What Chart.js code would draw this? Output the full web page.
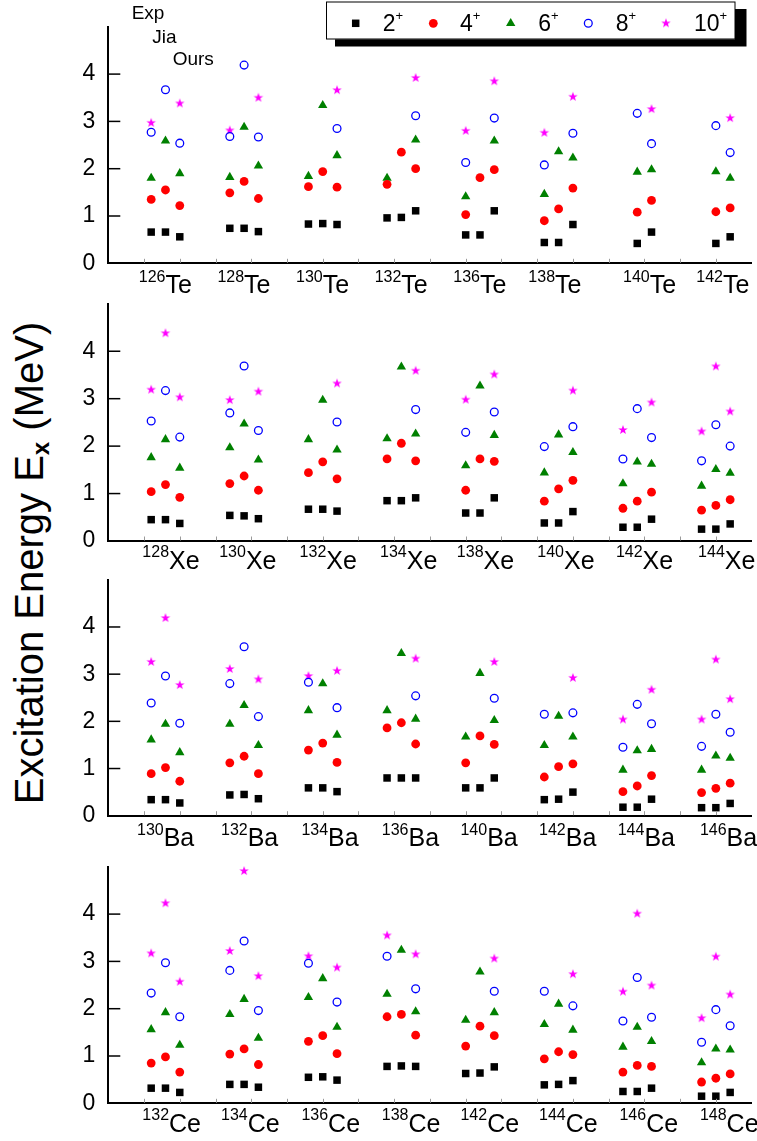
<!DOCTYPE html>
<html>
<head>
<meta charset="utf-8">
<title>Excitation energies of Te, Xe, Ba and Ce isotopes</title>
<script src="https://cdn.jsdelivr.net/npm/chart.js@4.4.0/dist/chart.umd.min.js"></script>
<style>
  html, body { margin: 0; padding: 0; background: #fff; }
  body { width: 757px; height: 1141px; position: relative; overflow: hidden;
         font-family: "Liberation Sans", Arial, sans-serif; }
  canvas { position: absolute; left: 0; }
  #ytitle { position: absolute; left: 31px; top: 563px; color: #000;
            transform: translate(-50%, -50%) rotate(-90deg);
            font-size: 40px; white-space: nowrap; line-height: 1; }
  #ytitle sub { font-size: 24px; font-weight: bold; vertical-align: -6px; }
</style>
</head>
<body>
<div id="ytitle">Excitation Energy E<sub>x</sub> (MeV)</div>
<script>
/**
 * Excitation energies of the 2+ ... 10+ yrast states.
 * Every list runs nucleus by nucleus, three values each: Exp, Jia, Ours.
 * null = no value for that column.
 */
var teMass = ['126', '128', '130', '132', '136', '138', '140', '142'];
var te2  = [0.66,0.66,0.56, 0.74,0.74,0.67, 0.83,0.84,0.82, 0.96,0.97,1.11, 0.60,0.60,1.11, 0.44,0.44,0.82, null,0.42,0.66, null,0.42,0.56];
var te4  = [1.35,1.55,1.22, 1.49,1.73,1.37, 1.62,1.94,1.61, 1.67,2.35,2.00, 1.03,1.81,1.98, 0.90,1.15,1.59, null,1.08,1.33, null,1.09,1.17];
var te6  = [1.80,2.59,1.90, 1.82,2.88,2.06, 1.84,3.34,2.28, 1.80,null,2.61, 1.41,null,2.59, 1.46,2.36,2.23, null,1.93,1.98, null,1.94,1.80];
var te8  = [2.77,3.67,2.54, 2.68,4.19,2.67, null,null,2.85, null,null,3.12, 2.13,null,3.07, 2.08,null,2.75, null,3.17,2.53, null,2.91,2.34];
var te10 = [2.97,null,3.38, 2.81,null,3.50, null,null,3.66, null,null,3.92, 2.80,null,3.85, 2.76,null,3.52, null,null,3.26, null,null,3.07];

var xeMass = ['128', '130', '132', '134', '138', '140', '142', '144'];
var xe2  = [0.45,0.45,0.37, 0.54,0.53,0.47, 0.67,0.67,0.63, 0.85,0.85,0.91, 0.59,0.59,0.91, 0.38,0.38,0.62, 0.29,0.29,0.46, 0.25,0.25,0.36];
var xe4  = [1.04,1.19,0.92, 1.21,1.37,1.07, 1.44,1.67,1.31, 1.73,2.06,1.69, 1.07,1.73,1.68, 0.84,1.10,1.28, 0.69,0.84,1.03, 0.65,0.75,0.87];
var xe6  = [1.76,2.14,1.54, 1.97,2.47,1.71, 2.14,2.97,1.92, 2.16,3.67,2.26, 1.59,3.27,2.23, 1.44,2.24,1.87, 1.21,1.67,1.62, 1.16,1.51,1.43];
var xe8  = [2.53,3.17,2.19, 2.70,3.69,2.33, null,null,2.51, null,null,2.77, 2.29,null,2.72, 1.99,null,2.41, 1.73,2.79,2.18, 1.69,2.45,2.00];
var xe10 = [3.19,4.38,3.03, 2.97,null,3.15, null,null,3.32, null,null,3.59, 2.98,null,3.51, null,null,3.17, 2.34,null,2.92, 2.31,3.68,2.73];

var baMass = ['130', '132', '134', '136', '140', '142', '144', '146'];
var ba2  = [0.34,0.34,0.27, 0.44,0.45,0.36, 0.59,0.59,0.51, 0.80,0.80,0.80, 0.59,0.59,0.80, 0.34,0.35,0.50, 0.18,0.18,0.35, 0.17,0.17,0.26];
var ba4  = [0.89,1.02,0.73, 1.12,1.26,0.89, 1.39,1.54,1.13, 1.86,1.97,1.52, 1.12,1.69,1.51, 0.82,1.04,1.10, 0.51,0.63,0.85, 0.49,0.58,0.69];
var ba6  = [1.61,1.94,1.34, 1.94,2.34,1.49, 2.23,2.80,1.71, 2.23,3.44,2.05, 1.67,3.02,2.02, 1.49,2.11,1.67, 0.97,1.38,1.41, 0.97,1.27,1.22];
var ba8  = [2.39,2.96,1.96, 2.80,3.58,2.10, 2.83,null,2.29, null,null,2.54, null,null,2.49, 2.15,null,2.18, 1.45,2.36,1.95, 1.47,2.15,1.77];
var ba10 = [3.26,4.19,2.77, 3.11,null,2.89, 2.96,null,3.07, null,null,3.33, null,null,3.26, null,null,2.92, 2.04,null,2.67, 2.04,3.31,2.47];

var ceMass = ['132', '134', '136', '138', '142', '144', '146', '148'];
var ce2  = [0.32,0.32,0.23, 0.40,0.40,0.34, 0.55,0.56,0.49, 0.78,0.79,0.78, 0.63,0.64,0.77, 0.39,0.40,0.48, 0.25,0.25,0.32, 0.15,0.15,0.23];
var ce4  = [0.85,0.98,0.66, 1.04,1.15,0.82, 1.31,1.43,1.05, 1.83,1.88,1.44, 1.21,1.63,1.43, 0.94,1.09,1.03, 0.66,0.80,0.78, 0.45,0.53,0.62];
var ce6  = [1.56,1.92,1.23, 1.88,2.20,1.38, 2.24,2.64,1.61, 2.31,3.24,1.94, 1.76,2.78,1.92, 1.67,2.10,1.55, 1.19,1.61,1.31, 0.86,1.15,1.13];
var ce8  = [2.33,2.97,1.83, 2.81,3.43,1.96, 2.96,null,2.14, 3.11,null,2.42, null,null,2.37, 2.37,null,2.06, 1.74,2.66,1.82, 1.29,1.98,1.64];
var ce10 = [3.17,4.23,2.57, 3.22,4.91,2.69, 3.11,null,2.87, 3.55,null,3.15, null,null,3.06, null,null,2.73, 2.36,4.01,2.49, 1.80,3.10,2.30];

// where each isotope name starts on the x axis
var teLabelX = [0.6, 2.8, 5.0, 7.2, 9.4, 11.5, 14.15, 16.2];
var xeLabelX = [0.7, 2.85, 5.1, 7.35, 9.5, 11.75, 13.95, 16.25];
var baLabelX = [0.55, 2.9, 5.15, 7.4, 9.6, 11.8, 14.0, 16.3];
var ceLabelX = [0.7, 2.9, 5.15, 7.4, 9.6, 11.8, 14.05, 16.3];

var stateNames = ['2', '4', '6', '8', '10'];
var columnNames = ['Exp', 'Jia', 'Ours'];

// x position of a column: nuclei every 2.2 units, columns 0.4 apart
var GROUP_START = 0.2, GROUP_STEP = 2.2, COL_STEP = 0.4;

var FONT = '"Liberation Sans", Arial, sans-serif';
var AXIS_LEFT = 108.3, AXIS_RIGHT_PAD = 3.3;

var panels = [
  { sym: 'Te', mass: teMass, series: [te2, te4, te6, te8, te10], labelX: teLabelX, top: 14.6,  bottom: 263.3,  labelDy: 30 },
  { sym: 'Xe', mass: xeMass, series: [xe2, xe4, xe6, xe8, xe10], labelX: xeLabelX, top: 291,   bottom: 541,    labelDy: 28 },
  { sym: 'Ba', mass: baMass, series: [ba2, ba4, ba6, ba8, ba10], labelX: baLabelX, top: 567.6, bottom: 815.7,  labelDy: 30.5 },
  { sym: 'Ce', mass: ceMass, series: [ce2, ce4, ce6, ce8, ce10], labelX: ceLabelX, top: 854.2, bottom: 1103.3, labelDy: 28.5 }
];

/**
 * Filled five pointed star used as point style for the 10+ states
 */
function makeStar(outer, inner, color)
{
  var c = document.createElement('canvas');
  var s = Math.ceil(outer * 2 + 2);
  c.width = s;
  c.height = s;
  var g = c.getContext('2d');
  g.fillStyle = color;
  g.beginPath();
  for (var k = 0; k < 10; k++) {
    var r = (k % 2) ? inner : outer;
    var a = -Math.PI / 2 + k * Math.PI / 5;
    g.lineTo(s / 2 + r * Math.cos(a), s / 2 + r * Math.sin(a));
  }
  g.closePath();
  g.fill();
  return c;
}

var star = makeStar(5.0, 2.0, '#ff00ff');

// marker style of each state, 2+ to 10+
var markers = [
  { pointStyle: 'rect',     radius: 5.3, backgroundColor: '#000000', borderColor: '#000000', borderWidth: 0 },
  { pointStyle: 'circle',   radius: 4.4, backgroundColor: '#ff0000', borderColor: '#ff0000', borderWidth: 0 },
  { pointStyle: 'triangle', radius: 5.4, backgroundColor: '#008000', borderColor: '#008000', borderWidth: 0 },
  { pointStyle: 'circle',   radius: 3.9, backgroundColor: 'rgba(0,0,0,0)', borderColor: '#0000ff', borderWidth: 1.3 },
  { pointStyle: star,       radius: 5.0, backgroundColor: '#ff00ff', borderColor: '#ff00ff', borderWidth: 0 }
];

function toPoints(values)
{
  var pts = [];
  for (var i = 0; i < values.length; i++) {
    if (values[i] === null) continue;
    var g = Math.floor(i / 3), m = i % 3;
    pts.push({ x: GROUP_START + GROUP_STEP * g + COL_STEP * m, y: values[i] });
  }
  return pts;
}

/**
 * Inward ticks on both axes and the isotope names under each panel
 */
var panelDecor = {
  id: 'panelDecor',
  afterDraw: function (chart, args, opts)
  {
    var ctx = chart.ctx;
    var area = chart.chartArea;
    var xs = chart.scales.x, ys = chart.scales.y;
    var p = opts.panel;

    ctx.save();
    ctx.strokeStyle = '#000';
    ctx.lineWidth = 1.5;
    for (var v = 1; v <= 4; v++) {
      var py = ys.getPixelForValue(v);
      ctx.beginPath();
      ctx.moveTo(area.left, py);
      ctx.lineTo(area.left + 12, py);
      ctx.stroke();
    }

    ctx.strokeStyle = '#9a9a9a';
    ctx.lineWidth = 1;
    for (var t = 0; t <= 16; t++) {
      var px = Math.round(xs.getPixelForValue(t)) + 0.5;
      ctx.beginPath();
      ctx.moveTo(px, area.bottom - 0.5);
      ctx.lineTo(px, area.bottom - 4.5);
      ctx.stroke();
    }

    ctx.fillStyle = '#000';
    ctx.textBaseline = 'alphabetic';
    for (var i = 0; i < p.mass.length; i++) {
      var lx = xs.getPixelForValue(p.labelX[i]);
      var base = area.bottom + p.labelDy;
      ctx.font = '16px ' + FONT;
      ctx.textAlign = 'right';
      ctx.fillText(p.mass[i], lx, base - 11.6);
      ctx.font = '25px ' + FONT;
      ctx.textAlign = 'left';
      ctx.fillText(p.sym, lx, base);
    }
    ctx.restore();
  }
};

/**
 * Column captions and the boxed legend on the top panel
 */
var topDecor = {
  id: 'topDecor',
  afterDraw: function (chart)
  {
    var ctx = chart.ctx;
    ctx.save();
    ctx.fillStyle = '#000';
    ctx.textAlign = 'left';
    ctx.textBaseline = 'alphabetic';
    ctx.font = '19px ' + FONT;
    var capX = [131.7, 152.3, 172.7], capY = [18.5, 43, 65];
    for (var c = 0; c < columnNames.length; c++) {
      ctx.fillText(columnNames[c], capX[c], capY[c]);
    }

    // shadow, then the box
    ctx.fillRect(335, 9, 411.5, 37.5);
    ctx.fillStyle = '#fff';
    ctx.fillRect(326, 1.7, 409, 37.6);
    ctx.strokeStyle = '#000';
    ctx.lineWidth = 1;
    ctx.strokeRect(326.5, 2, 408.5, 37);

    var markX = [355.7, 433.3, 510.7, 588.3, 666];
    var textX = [382.7, 460, 538.3, 615.7, 694];
    for (var k = 0; k < stateNames.length; k++) {
      var m = markers[k];
      ctx.fillStyle = m.backgroundColor;
      ctx.strokeStyle = m.borderColor;
      ctx.lineWidth = m.borderWidth;
      Chart.helpers.drawPoint(ctx, { pointStyle: m.pointStyle, radius: m.radius, rotation: 0, borderWidth: m.borderWidth }, markX[k], 23.3);

      ctx.fillStyle = '#000';
      ctx.font = '23px ' + FONT;
      ctx.fillText(stateNames[k], textX[k], 30.7);
      var w = ctx.measureText(stateNames[k]).width;
      ctx.font = '13px ' + FONT;
      ctx.fillText('+', textX[k] + w, 19.5);
    }
    ctx.restore();
  }
};

function showPanel(p, index)
{
  var canvasTop = Math.floor(p.top) - 14;
  var height = Math.ceil(p.bottom) + 42 - canvasTop;
  var padTop = p.top - canvasTop;
  var axisH = height - (p.bottom - canvasTop);

  var canvas = document.createElement('canvas');
  canvas.id = 'graphCanvas' + p.sym;
  canvas.width = 757;
  canvas.height = height;
  canvas.style.top = canvasTop + 'px';
  document.body.appendChild(canvas);

  var datasets = [];
  for (var k = 0; k < p.series.length; k++) {
    var m = markers[k];
    datasets.push({
      label: stateNames[k] + '+',
      data: toPoints(p.series[k]),
      pointStyle: m.pointStyle,
      pointRadius: m.radius,
      pointBackgroundColor: m.backgroundColor,
      pointBorderColor: m.borderColor,
      pointBorderWidth: m.borderWidth,
      showLine: false,
      clip: false
    });
  }

  var plugins = [panelDecor];
  if (index === 0) plugins.push(topDecor);

  return new Chart(canvas, {
    type: 'scatter',
    data: { datasets: datasets },
    plugins: plugins,
    options: {
      responsive: false,
      animation: false,
      events: [],
      layout: { padding: { top: padTop, right: AXIS_RIGHT_PAD, bottom: 0, left: 0 } },
      plugins: {
        legend: { display: false },
        tooltip: { enabled: false },
        panelDecor: { panel: p }
      },
      scales: {
        x: {
          type: 'linear',
          min: -1,
          max: 17,
          grid: { display: false, drawTicks: false },
          ticks: { display: false },
          border: { display: true, color: '#000', width: 2 },
          afterFit: function (s) { s.height = axisH; }
        },
        y: {
          type: 'linear',
          min: 0,
          max: 5,
          grid: { display: false, drawTicks: false },
          border: { display: true, color: '#000', width: 2 },
          ticks: {
            stepSize: 1,
            padding: 13,
            color: '#000',
            font: { family: FONT, size: 23 }
          },
          afterBuildTicks: function (s) {
            s.ticks = s.ticks.filter(function (t) { return t.value <= 4; });
          },
          afterFit: function (s) { s.width = AXIS_LEFT; }
        }
      }
    }
  });
}

for (var i = 0; i < panels.length; i++) {
  showPanel(panels[i], i);
}
</script>
</body>
</html>
